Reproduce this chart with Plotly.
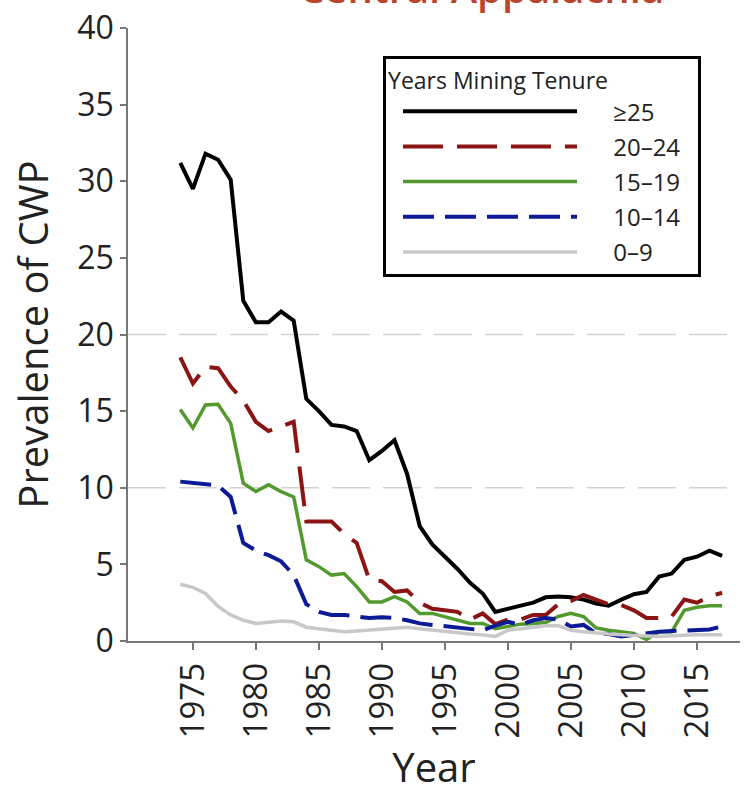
import plotly.graph_objects as go

years = list(range(1974, 2018))

tenure_labels = ["≥25", "20–24", "15–19", "10–14", "0–9"]

prev_25plus = [31.2, 29.5, 31.8, 31.4, 30.1, 22.2, 20.8, 20.8, 21.5, 20.9,
               15.8, 15.0, 14.1, 14.0, 13.7, 11.8, 12.4, 13.1, 10.9, 7.5,
               6.3, 5.5, 4.7, 3.8, 3.1, 1.9, 2.1, 2.3, 2.5, 2.85,
               2.9, 2.85, 2.7, 2.45, 2.3, 2.7, 3.05, 3.2, 4.2, 4.4,
               5.3, 5.5, 5.9, 5.55]

prev_20_24 = [18.5, 16.8, 17.9, 17.8, 16.6, 15.7, 14.3, 13.7, 14.0, 14.3,
              7.8, 7.8, 7.8, 7.0, 6.4, 4.0, 3.9, 3.2, 3.3, 2.5,
              2.1, 2.0, 1.9, 1.4, 1.8, 1.1, 1.4, 1.4, 1.7, 1.7,
              2.4, 2.6, 3.0, 2.7, 2.4, 2.35, 2.0, 1.5, 1.5, 1.6,
              2.7, 2.5, 2.9, 3.15]

prev_15_19 = [15.1, 13.9, 15.4, 15.45, 14.2, 10.3, 9.75, 10.2, 9.75, 9.4,
              5.3, 4.85, 4.3, 4.4, 3.55, 2.55, 2.55, 2.9, 2.55, 1.8,
              1.8, 1.6, 1.35, 1.15, 1.15, 0.8, 0.95, 1.1, 1.15, 1.2,
              1.6, 1.8, 1.6, 0.85, 0.7, 0.6, 0.5, 0.1, 0.6, 0.6,
              2.0, 2.2, 2.3, 2.3]

prev_10_14 = [10.4, 10.3, 10.2, 10.15, 9.4, 6.4, 5.9, 5.6, 5.2, 4.3,
              2.4, 1.9, 1.7, 1.7, 1.6, 1.5, 1.55, 1.5, 1.35, 1.15,
              1.05, 0.95, 0.85, 0.8, 0.7, 1.0, 1.25, 1.05, 1.35, 1.5,
              1.4, 0.95, 1.05, 0.5, 0.45, 0.3, 0.4, 0.55, 0.6, 0.65,
              0.7, 0.7, 0.75, 0.95]

prev_0_9 = [3.7, 3.5, 3.1, 2.25, 1.7, 1.35, 1.15, 1.25, 1.3, 1.25,
            0.9, 0.8, 0.7, 0.6, 0.65, 0.7, 0.75, 0.8, 0.9, 0.8,
            0.7, 0.6, 0.5, 0.45, 0.4, 0.3, 0.7, 0.8, 0.9, 1.0,
            1.0, 0.7, 0.6, 0.5, 0.45, 0.4, 0.35, 0.3, 0.3, 0.35,
            0.4, 0.4, 0.4, 0.4]

series = [prev_25plus, prev_20_24, prev_15_19, prev_10_14, prev_0_9]
colors = ["#000000", "#8b1414", "#52992e", "#0c1a96", "#c8c8c8"]
dashes = ["solid", "40px,14px", "solid", "31px,11px", "solid"]
widths = [4, 4, 3.5, 4, 3.5]

x_ticks = [1975, 1980, 1985, 1990, 1995, 2000, 2005, 2010, 2015]
y_ticks = [0, 5, 10, 15, 20, 25, 30, 35, 40]
grid_levels = [10, 20]

FONT = "Open Sans, Liberation Sans, Arial, sans-serif"
PAD = "\u00a0" * 5
TAIL = "\u00a0" * 2

fig = go.Figure()
for i, (lab, vals) in enumerate(zip(tenure_labels, series)):
    fig.add_trace(go.Scatter(
        x=years, y=vals, mode="lines", name=PAD + lab + TAIL,
        legendgroup=f"g{i}",
        line=dict(color=colors[i], width=widths[i], dash=dashes[i]),
    ))

for g in grid_levels:
    fig.add_shape(type="line", xref="paper", x0=0, x1=1, yref="y", y0=g, y1=g,
                  line=dict(color="#d2d2d2", width=1.5, dash="38px,13px"),
                  layer="below")

fig.update_layout(
    width=744, height=794,
    margin=dict(l=128, r=4, t=28, b=153),
    paper_bgcolor="white", plot_bgcolor="white",
    font=dict(family=FONT, color="#222222"),
    showlegend=True,
    legend=dict(
        x=0.4167, y=0.954, xanchor="left", yanchor="top",
        bordercolor="#000000", borderwidth=3, bgcolor="white",
        font=dict(size=24, family=FONT, color="#222222"),
        title=dict(text="Years Mining Tenure", font=dict(size=23, family=FONT, color="#222222")),
        itemwidth=174, tracegroupgap=1, traceorder="grouped",
        indentation=12,
    ),
    xaxis=dict(
        range=[1969.85, 2018.42], tickmode="array", tickvals=x_ticks,
        ticktext=[str(t) for t in x_ticks], tickangle=-90,
        ticks="outside", ticklen=7, tickwidth=1.5, tickcolor="#777777",
        showline=True, linecolor="#777777", linewidth=1.5,
        showgrid=False, zeroline=False,
        tickfont=dict(size=33, family=FONT, color="#222222"),
        title=dict(text="Year", font=dict(size=40, family=FONT, color="#222222"), standoff=20),
    ),
    yaxis=dict(
        range=[0, 40], tickmode="array", tickvals=y_ticks,
        ticks="outside", ticklen=6, tickwidth=1.5, tickcolor="#777777",
        showline=True, linecolor="#777777", linewidth=1.5,
        showgrid=False, zeroline=False,
        tickfont=dict(size=32, family=FONT, color="#222222"),
        title=dict(text="Prevalence of CWP", font=dict(size=40, family=FONT, color="#222222"), standoff=16),
    ),
)

fig.add_annotation(
    text="Central Appalachia", xref="paper", yref="paper",
    x=(481.5 - 128) / 612, y=1 + (28 + 13) / 613, xanchor="center", yanchor="middle",
    showarrow=False, font=dict(size=40, family=FONT, color="#b8452c", weight=600),
)

fig.write_html("out.html")
